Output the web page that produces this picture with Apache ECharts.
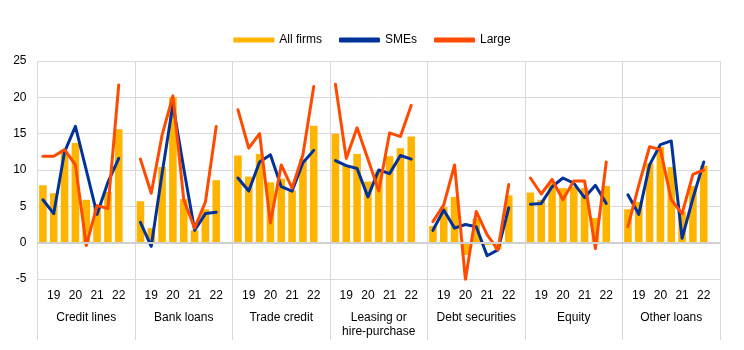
<!DOCTYPE html>
<html>
<head>
<meta charset="utf-8">
<script src="https://cdn.jsdelivr.net/npm/echarts@6/dist/echarts.min.js"></script>
<style>html,body{margin:0;padding:0;background:#fff}#c{width:744px;height:350px}</style>
</head>
<body>
<div id="c"></div>
<script>
const groups = ['Credit lines','Bank loans','Trade credit','Leasing or\nhire-purchase','Debt securities','Equity','Other loans'];
const periods = ['19H1','19H2','20H1','20H2','21H1','21H2','22H1','22H2'];
const yearTicks = ['19','20','21','22'];

const allFirms = [
  [7.9, 6.8, 12.4, 13.7, 5.9, 5.0, 7.0, 15.6],
  [5.7, 2.0, 10.4, 20.0, 6.0, 1.7, 4.6, 8.6],
  [12.0, 9.1, 12.2, 8.3, 8.8, 7.2, 11.5, 16.1],
  [15.0, 10.6, 12.2, 8.4, 9.8, 11.9, 13.0, 14.6],
  [2.3, 4.9, 6.3, -1.7, 3.3, -0.3, -0.9, 6.5],
  [6.9, 5.9, 8.2, 7.5, 7.7, 7.5, 3.4, 7.8],
  [4.6, 5.6, 10.9, 13.2, 10.4, 4.3, 7.8, 10.6]
];
const smes = [
  [5.9, 4.0, 12.5, 16.0, 10.0, 3.9, 8.3, 11.6],
  [2.8, -0.5, 9.5, 19.0, 10.2, 1.7, 4.0, 4.2],
  [8.9, 7.1, 11.1, 12.1, 7.7, 7.1, 11.0, 12.7],
  [11.3, 10.6, 10.2, 6.3, 10.0, 9.5, 12.0, 11.5],
  [1.7, 4.5, 2.0, 2.5, 2.2, -1.8, -1.0, 4.8],
  [5.3, 5.4, 7.7, 8.9, 8.2, 6.2, 7.9, 5.4],
  [6.6, 3.9, 10.7, 13.5, 14.0, 0.6, 6.1, 11.1]
];
const large = [
  [11.9, 11.9, 12.8, 10.7, -0.4, 5.1, 4.7, 21.7],
  [11.5, 6.8, 14.8, 20.2, 5.9, 2.0, 5.6, 16.0],
  [18.3, 13.0, 15.0, 2.7, 10.7, 7.5, 12.1, 21.5],
  [21.8, 11.6, 15.8, 11.5, 7.1, 15.1, 14.6, 18.9],
  [2.9, 5.2, 10.7, -5.1, 4.3, 1.1, -1.0, 8.0],
  [8.9, 6.7, 8.7, 5.9, 8.5, 8.5, -0.8, 11.1],
  [2.2, 7.9, 13.2, 12.8, 5.9, 4.0, 9.4, 10.0]
];

// Build flat category list: each group has 8 periods plus one empty slot
const cats = [], barData = [], smeData = [], largeData = [];
groups.forEach((g, gi) => {
  periods.forEach((p, pi) => {
    cats.push(gi + '|' + p);
    barData.push(allFirms[gi][pi]);
    smeData.push(smes[gi][pi]);
    largeData.push(large[gi][pi]);
  });
  cats.push(gi + '|gap');
  barData.push(null); smeData.push(null); largeData.push(null);
});

const font = '"Liberation Sans", Arial, sans-serif';
const gridColor = '#d9d9d9';
const chart = echarts.init(document.getElementById('c'), null, {renderer: 'canvas'});
chart.setOption({
  animation: false,
  backgroundColor: '#fff',
  textStyle: {fontFamily: font},
  legend: {
    top: 29, left: 'center',
    itemWidth: 41, itemHeight: 5, itemGap: 17,
    textStyle: {fontSize: 12, color: '#000', fontFamily: font},
    data: [
      {name: 'All firms', icon: 'rect'},
      {name: 'SMEs', icon: 'roundRect'},
      {name: 'Large', icon: 'roundRect'}
    ]
  },
  grid: {left: 37.5, right: 24, top: 61, bottom: 71, containLabel: false},
  xAxis: [
    {
      type: 'category', data: cats, position: 'bottom',
      axisLine: {show: false, onZero: false},
      axisTick: {show: false},
      splitLine: {show: false},
      axisLabel: {
        interval: 0, margin: 11, fontSize: 12, color: '#000', fontFamily: font,
        formatter: function (v) {
          const p = v.split('|')[1];
          if (p && p.endsWith('H2')) return p.slice(0, 2);
          return '';
        }
      }
    },
    {
      type: 'category', data: groups, position: 'bottom',
      boundaryGap: true,
      axisLine: {show: false, onZero: false},
      axisTick: {show: true, inside: false, length: 61, lineStyle: {color: gridColor, width: 1}},
      splitLine: {show: true, lineStyle: {color: gridColor, width: 1}},
      axisLabel: {interval: 0, margin: 32, fontSize: 12, color: '#000', lineHeight: 14, fontFamily: font}
    }
  ],
  yAxis: {
    type: 'value', min: -5, max: 25, interval: 5,
    axisLine: {show: false}, axisTick: {show: false},
    splitLine: {show: true, lineStyle: {color: gridColor, width: 1}},
    axisLabel: {fontSize: 12, color: '#000', margin: 11, fontFamily: font}
  },
  series: [
    {
      name: 'All firms', type: 'bar', xAxisIndex: 0, data: barData,
      barCategoryGap: '30%',
      itemStyle: {color: '#FFB400'},
      markLine: {
        silent: true, symbol: 'none', label: {show: false},
        lineStyle: {color: '#d0d0d0', width: 2, type: 'solid'},
        data: [{yAxis: 0}]
      }
    },
    {
      name: 'SMEs', type: 'line', xAxisIndex: 0, data: smeData,
      symbol: 'none', connectNulls: false,
      lineStyle: {color: '#003299', width: 3, cap: 'round', join: 'round'},
      itemStyle: {color: '#003299'}
    },
    {
      name: 'Large', type: 'line', xAxisIndex: 0, data: largeData,
      symbol: 'none', connectNulls: false,
      lineStyle: {color: '#FF4B00', width: 3, cap: 'round', join: 'round'},
      itemStyle: {color: '#FF4B00'}
    }
  ]
});
</script>
</body>
</html>
